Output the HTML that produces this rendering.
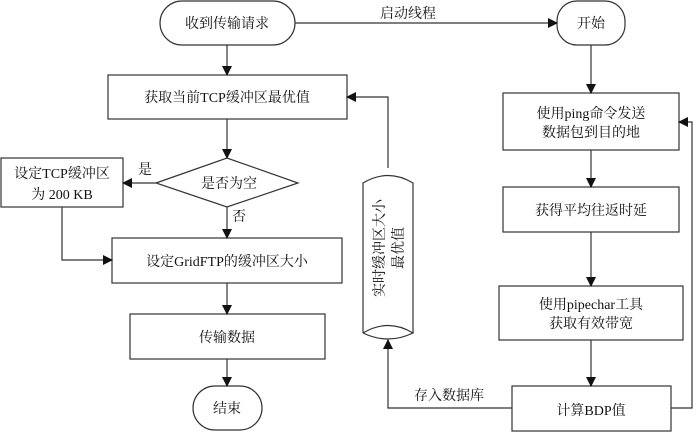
<!DOCTYPE html>
<html><head><meta charset="utf-8"><style>
body{margin:0;background:#fff}
svg{display:block}
text{font-family:"Liberation Serif","Noto Serif CJK SC",serif;font-size:14px;fill:#111}
</style></head><body>
<svg width="700" height="432" viewBox="0 0 700 432">
<defs><marker id="a" markerWidth="10" markerHeight="10" refX="9" refY="5" orient="auto" markerUnits="userSpaceOnUse"><path d="M0,0 L10,5 L0,10 z" fill="#111"/></marker></defs>
<g fill="none" stroke="#333" stroke-width="1.2">
<rect x="160" y="1" width="135" height="44" rx="22"/>
<rect x="108" y="75" width="239" height="44"/>
<polygon points="156,183 227,158 298,183 227,207"/>
<rect x="1" y="158" width="122" height="49"/>
<rect x="112" y="238" width="230" height="45"/>
<rect x="130" y="314" width="195" height="45"/>
<rect x="193" y="386" width="69" height="44" rx="22"/>
<rect x="557" y="1" width="68" height="44" rx="20"/>
<rect x="503" y="93" width="176" height="57"/>
<rect x="503" y="187" width="176" height="45"/>
<rect x="499" y="286" width="184" height="54"/>
<rect x="512" y="386" width="159" height="45"/>
<path d="M363,333 L363,183 Q388,168 413,183 L413,333"/>
<path d="M363,333 Q388,318 413,333 Q388,345 363,333"/>
</g>
<g fill="none" stroke="#333" stroke-width="1.2" marker-end="url(#a)">
<line x1="227" y1="45" x2="227" y2="75"/>
<line x1="227" y1="119" x2="227" y2="158"/>
<line x1="156" y1="183" x2="123" y2="183"/>
<line x1="227" y1="207" x2="227" y2="238"/>
<polyline points="62,207 62,260 112,260"/>
<line x1="227" y1="283" x2="227" y2="314"/>
<line x1="227" y1="359" x2="227" y2="386"/>
<line x1="295" y1="23" x2="557" y2="23"/>
<line x1="591" y1="45" x2="591" y2="93"/>
<line x1="591" y1="150" x2="591" y2="187"/>
<line x1="591" y1="232" x2="591" y2="286"/>
<line x1="591" y1="340" x2="591" y2="386"/>
<polyline points="671,408 692,408 692,122 679,122"/>
<polyline points="388,168 388,97 347,97"/>
<polyline points="512,408 388,408 388,340"/>
</g>
<g text-anchor="middle">
<text x="227" y="28">收到传输请求</text>
<text x="227" y="102">获取当前TCP缓冲区最优值</text>
<text x="229" y="188">是否为空</text>
<text x="62" y="178">设定TCP缓冲区</text>
<text x="62" y="199">为 200  KB</text>
<text x="145" y="174">是</text>
<text x="239" y="221">否</text>
<text x="227" y="266">设定GridFTP的缓冲区大小</text>
<text x="227" y="342">传输数据</text>
<text x="227" y="413">结束</text>
<text x="408" y="18">启动线程</text>
<text x="591" y="28">开始</text>
<text x="591" y="118">使用ping命令发送</text>
<text x="591" y="137">数据包到目的地</text>
<text x="591" y="215">获得平均往返时延</text>
<text x="591" y="309">使用pipechar工具</text>
<text x="591" y="328">获取有效带宽</text>
<text x="591" y="415">计算BDP值</text>
<text x="449" y="400">存入数据库</text>
<text transform="translate(384,248) rotate(-90)">实时缓冲区大小</text>
<text transform="translate(403,248) rotate(-90)">最优值</text>
</g>
</svg>
</body></html>
